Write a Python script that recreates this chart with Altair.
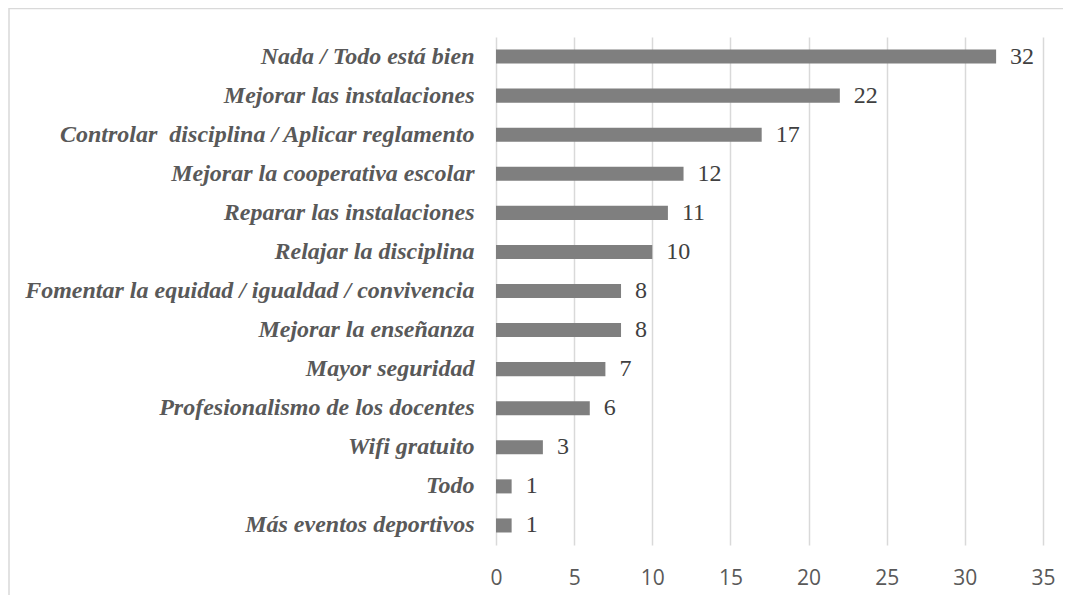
import altair as alt
import pandas as pd

categories = [
    "Nada / Todo está bien",
    "Mejorar las instalaciones",
    "Controlar\u00a0 disciplina / Aplicar reglamento",
    "Mejorar la cooperativa escolar",
    "Reparar las instalaciones",
    "Relajar la disciplina",
    "Fomentar la equidad / igualdad / convivencia",
    "Mejorar la enseñanza",
    "Mayor seguridad",
    "Profesionalismo de los docentes",
    "Wifi gratuito",
    "Todo",
    "Más eventos deportivos",
]
values = [32, 22, 17, 12, 11, 10, 8, 8, 7, 6, 3, 1, 1]
x_ticks = [0, 5, 10, 15, 20, 25, 30, 35]

df = pd.DataFrame({"cat": categories, "val": values})

W, H = 547, 508
PAD_L, PAD_T, PAD_R, PAD_B = 488, 29, 20, 50
SERIF = "Liberation Serif"

y_enc = alt.Y(
    "cat:N",
    sort=categories,
    title=None,
    scale=alt.Scale(paddingInner=0.64, paddingOuter=0.32),
    axis=alt.Axis(
        labelFont=SERIF,
        labelFontStyle="italic",
        labelFontWeight="bold",
        labelFontSize=24,
        labelColor="#595959",
        labelPadding=22,
        labelLimit=1000,
        ticks=False,
        domain=False,
        grid=False,
    ),
)
x_enc = alt.X(
    "val:Q",
    title=None,
    scale=alt.Scale(domain=[0, 35], nice=False),
    axis=alt.Axis(
        values=x_ticks,
        grid=True,
        gridColor="#d9d9d9",
        gridWidth=1.5,
        domain=False,
        ticks=False,
        labelFlush=False,
        labelFont="Open Sans",
        labelFontSize=21,
        labelColor="#595959",
        labelPadding=22,
    ),
)

bars = alt.Chart(df).mark_bar(color="#7f7f7f").encode(x=x_enc, y=y_enc)

labels = alt.Chart(df).mark_text(
    align="left", baseline="middle", dx=14,
    font=SERIF, fontSize=24, color="#404040",
).encode(x="val:Q", y=alt.Y("cat:N", sort=categories), text="val:Q")

border = alt.Chart(alt.Data(values=[{"a": 1}])).mark_rect(
    filled=False, stroke="#d9d9d9", strokeWidth=1.5
).encode(
    x=alt.value(-PAD_L + 1),
    x2=alt.value(W + PAD_R + 10),
    y=alt.value(-PAD_T + 0.5),
    y2=alt.value(H + PAD_B + 10),
)

chart = alt.layer(border, bars, labels).properties(
    width=W,
    height=H,
    autosize=alt.AutoSizeParams(type="none"),
    padding={"left": PAD_L, "top": PAD_T, "right": PAD_R, "bottom": PAD_B},
).configure(font=SERIF).configure_view(stroke=None)

chart.save("out.html", embed_options={"renderer": "svg", "actions": False})
